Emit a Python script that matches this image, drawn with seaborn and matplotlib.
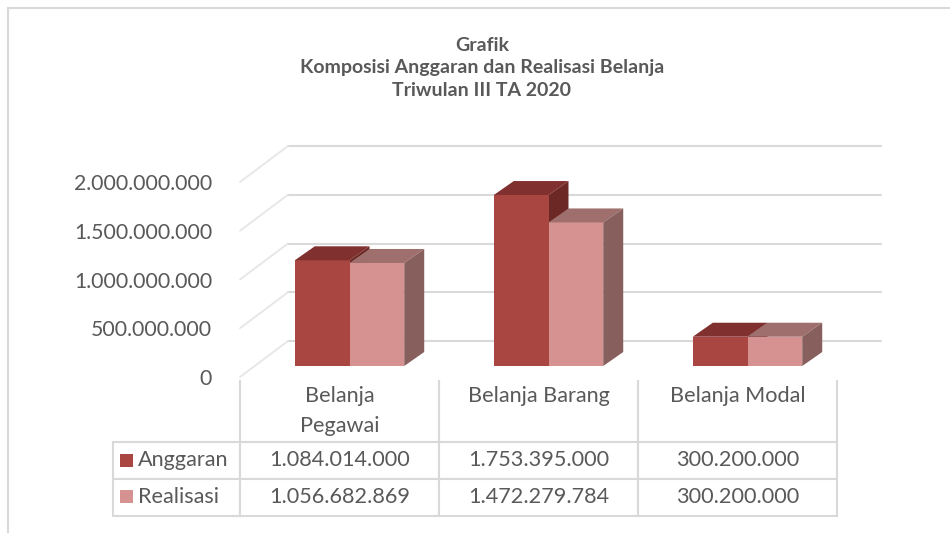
import pandas as pd
import matplotlib.pyplot as plt
import seaborn as sns
from matplotlib.patches import Polygon, Rectangle
from matplotlib.table import Table
from matplotlib.ticker import FuncFormatter
from matplotlib.transforms import blended_transform_factory

categories = ["Belanja Pegawai", "Belanja Barang", "Belanja Modal"]
header_labels = ["Belanja\nPegawai", "Belanja Barang", "Belanja Modal"]
series = ["Anggaran", "Realisasi"]
anggaran = [1084014000, 1753395000, 300200000]
realisasi = [1056682869, 1472279784, 300200000]
yticks = [0, 500000000, 1000000000, 1500000000, 2000000000]

front = {"Anggaran": "#AA4642", "Realisasi": "#D59291"}
top = {"Anggaran": "#80302E", "Realisasi": "#9E6F6D"}
side = {"Anggaran": "#6B2825", "Realisasi": "#875F5D"}
grey_text = "#595959"
grid_col = "#D9D9D9"


def fmt(v):
    return f"{int(v):,}".replace(",", ".")


sns.set_theme(style="white")
plt.rcParams['font.family'] = ['Lato', 'DejaVu Sans']

fig = plt.figure(figsize=(9.5, 5.33), dpi=100)
W, H = 950, 533
ax = fig.add_axes([240 / W, 1 - 377 / H, 597 / W, 195 / H])

df = pd.DataFrame({
    'kategori': categories * 2,
    'seri': [s for s in series for _ in categories],
    'nilai': anggaran + realisasi,
})
sns.barplot(data=df, x='kategori', y='nilai', hue='seri', order=categories,
            hue_order=series, palette=front, width=0.55, saturation=1,
            edgecolor='none', linewidth=0, legend=False, ax=ax)

ax.set_xlim(-0.5, 2.5)
ax.set_ylim(0, 2e9)
px_x = 3 / 597
px_y = 2e9 / 195

# fake 3d: shift front faces back a bit, add top + side faces
shift_x, shift_y = 10 * px_x, 11 * px_y
dep_x, dep_y = 20 * px_x, 14 * px_y
bars = sorted([p for p in ax.patches], key=lambda p: p.get_x())
for j, p in enumerate(bars):
    s = series[j % 2]
    z = 3 if s == "Anggaran" else 4
    p.set_x(p.get_x() + shift_x)
    p.set_y(p.get_y() + shift_y)
    p.set_zorder(z)
    x, y, w, h = p.get_x(), p.get_y(), p.get_width(), p.get_height()
    ax.add_patch(Polygon([(x, y + h), (x + w, y + h), (x + w + dep_x, y + h + dep_y),
                          (x + dep_x, y + h + dep_y)], closed=True, fc=top[s], ec='none',
                         zorder=z, clip_on=False))
    ax.add_patch(Polygon([(x + w, y), (x + w + dep_x, y + dep_y), (x + w + dep_x, y + h + dep_y),
                          (x + w, y + h)], closed=True, fc=side[s], ec='none',
                         zorder=z - 0.5 if s == "Anggaran" else z, clip_on=False))

# back wall + left wall gridlines
back_x, back_y = 48 * px_x, 36 * px_y
for v in yticks:
    ax.plot([-0.5 + back_x, 2.5 + 44 * px_x], [v + back_y] * 2, color=grid_col, lw=1.5,
            clip_on=False, zorder=1)
    ax.plot([-0.5, -0.5 + back_x], [v, v + back_y], color="#E6E6E6", lw=1.3,
            clip_on=False, zorder=1)

for sp in ax.spines.values():
    sp.set_visible(False)
ax.set_xlabel("")
ax.set_ylabel("")
ax.set_yticks(yticks)
ax.yaxis.set_major_formatter(FuncFormatter(lambda v, _: fmt(v)))
ax.tick_params(axis='y', length=0, pad=20, labelsize=15.3, labelcolor=grey_text)
ax.tick_params(axis='x', bottom=False, labelbottom=False)
ax.patch.set_alpha(0)

# data table under the chart
tbl = Table(ax, bbox=[-127 / 597, (377 - 516) / 195, 724 / 597, 136 / 195])
col_w = [127] + [199] * 3
row_h = [62, 37, 37]
for c in range(4):
    cell = tbl.add_cell(0, c, width=col_w[c], height=row_h[0], text='')
    cell.visible_edges = '' if c == 0 else 'LR'
    cell.set_edgecolor(grid_col)
    cell.set_linewidth(1.5)
for r, (name, vals) in enumerate([("Anggaran", anggaran), ("Realisasi", realisasi)], start=1):
    cell = tbl.add_cell(r, 0, width=col_w[0], height=row_h[r], text=name, loc='left')
    cell.PAD = 25 / 127
    cell.set_edgecolor(grid_col)
    cell.set_linewidth(1.5)
    for c, v in enumerate(vals, start=1):
        cell = tbl.add_cell(r, c, width=col_w[c], height=row_h[r], text=fmt(v), loc='center')
        cell.set_edgecolor(grid_col)
        cell.set_linewidth(1.5)
tbl.auto_set_font_size(False)
tbl.set_fontsize(15.6)
for cell in tbl.get_celld().values():
    cell.get_text().set_color(grey_text)
ax.add_table(tbl)

# legend keys in the table
for r, name in enumerate(series):
    yc = (377 - (461 + 36 * r)) / 195
    ax.add_patch(Rectangle((-120 / 597, yc - 6.5 / 195), 13 / 597, 13 / 195,
                           transform=ax.transAxes, fc=front[name], ec='none', clip_on=False))

# category headers
bt = blended_transform_factory(ax.transData, ax.transAxes)
for i, lab in enumerate(header_labels):
    ax.text(i, (377 - 386) / 195, lab, transform=bt, ha='center', va='top', fontsize=15.6,
            color=grey_text, linespacing=1.6)

fig.text(482 / W, 1 - 68 / H, "Grafik\nKomposisi Anggaran dan Realisasi Belanja\nTriwulan III TA 2020",
         ha='center', va='center', fontsize=14, fontweight='bold', color=grey_text,
         linespacing=1.4)

fig.patches.append(Rectangle((8 / W, -0.05), 1.0, 1 - 8 / H + 0.05, transform=fig.transFigure,
                             fill=False, ec=grid_col, lw=1.5))

fig.savefig('out.png', dpi=100)
